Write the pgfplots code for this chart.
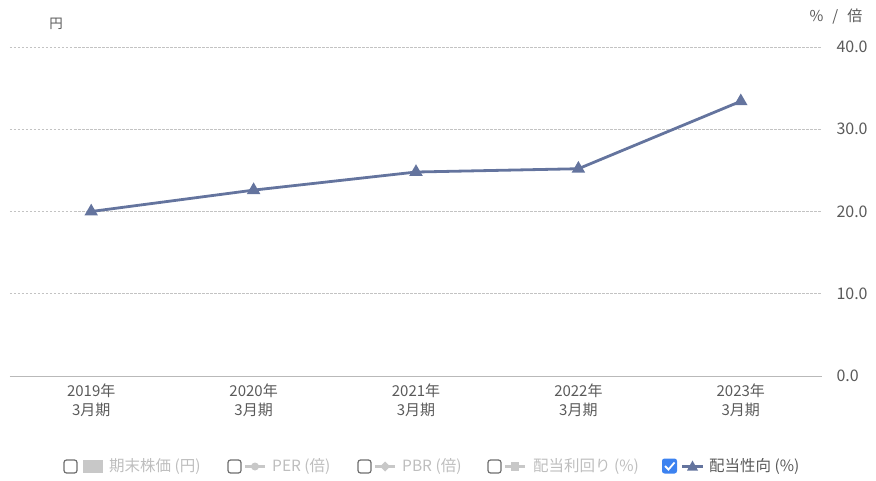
\documentclass[border=0pt]{standalone}
\usepackage{fontspec}
\setmainfont{Noto Sans CJK JP}
\usepackage{pgfplots}
\pgfplotsset{compat=1.18}
\definecolor{linec}{RGB}{100,116,158}
\definecolor{tickc}{RGB}{90,90,90}
\definecolor{gridc}{RGB}{195,195,195}
\definecolor{legc}{RGB}{200,200,200}
\definecolor{legt}{RGB}{190,190,190}
\definecolor{boxc}{RGB}{110,110,110}
\definecolor{chk}{RGB}{60,130,240}
\begin{document}
\begin{tikzpicture}[x=1pt,y=1pt]
\path[use as bounding box] (0,0) rectangle (876,480);
\begin{axis}[
  at={(10pt,104pt)}, anchor=south west,
  scale only axis, width=812pt, height=329pt,
  xmin=-0.5, xmax=4.5, ymin=0, ymax=40,
  axis x line=bottom, axis y line=right,
  x axis line style={draw=gray!55, line width=0.9pt, -},
  y axis line style={draw=none},
  major tick length=0pt,
  xtick={0,1,2,3,4},
  xticklabels={{2019年\\3月期},{2020年\\3月期},{2021年\\3月期},{2022年\\3月期},{2023年\\3月期}},
  xticklabel style={align=center, font=\fontsize{15}{19.5}\selectfont, text=tickc, yshift=-4pt},
  ytick={0,10,20,30,40},
  yticklabel style={anchor=west, xshift=11pt, font=\fontsize{16}{18}\selectfont, text=tickc,
     /pgf/number format/.cd, fixed, fixed zerofill, precision=1, assume math mode=true},
  ymajorgrids, grid style={dash pattern=on 2.5pt off 1.5pt, gridc, line width=0.7pt},
  clip=false,
]
\addplot[linec, line width=2.8pt, mark=triangle*, mark size=5pt, mark options={solid}] coordinates {
  (0,20.0) (1,22.6) (2,24.8) (3,25.2) (4,33.4)
};
\end{axis}
% axis unit labels
\node[text=tickc, font=\fontsize{13.5}{15}\selectfont] at (56,456) {円};
\node[text=tickc, font=\fontsize{15}{17}\selectfont] at (836,463) {\%\hspace{9pt}/\hspace{9pt}倍};
% legend
\begin{scope}[font=\fontsize{15.5}{17}\selectfont]
% item 1
\draw[boxc, line width=1.2pt, rounded corners=2.5pt] (64,7) rectangle (77,20);
\fill[legc] (83,7) rectangle (103,20);
\node[anchor=west, text=legt, inner sep=0] at (109,13.5) {期末株価 (円)};
% item 2
\draw[boxc, line width=1.2pt, rounded corners=2.5pt] (228,7) rectangle (241,20);
\draw[legc, line width=2.5pt] (245,13.5) -- (265,13.5);
\fill[legc] (255,13.5) circle (4);
\node[anchor=west, text=legt, inner sep=0] at (272,13.5) {PER (倍)};
% item 3
\draw[boxc, line width=1.2pt, rounded corners=2.5pt] (358,7) rectangle (371,20);
\draw[legc, line width=2.5pt] (375,13.5) -- (395,13.5);
\fill[legc] (385,18.5) -- (390,13.5) -- (385,8.5) -- (380,13.5) -- cycle;
\node[anchor=west, text=legt, inner sep=0] at (402,13.5) {PBR (倍)};
% item 4
\draw[boxc, line width=1.2pt, rounded corners=2.5pt] (488,7) rectangle (501,20);
\draw[legc, line width=2.5pt] (505,13.5) -- (525,13.5);
\fill[legc] (511,9) rectangle (519,18);
\node[anchor=west, text=legt, inner sep=0] at (533,13.5) {配当利回り (\%)};
% item 5
\fill[chk, rounded corners=2.5pt] (662,6.5) rectangle (677,21.5);
\draw[white, line width=1.8pt] (665,14) -- (668.5,10.5) -- (674.5,17.5);
\draw[linec, line width=2.8pt] (682,13.5) -- (703,13.5);
\fill[linec] (687,9.5) -- (698,9.5) -- (692.5,19.5) -- cycle;
\node[anchor=west, text=tickc, inner sep=0] at (709,13.5) {配当性向 (\%)};
\end{scope}
\end{tikzpicture}
\end{document}
